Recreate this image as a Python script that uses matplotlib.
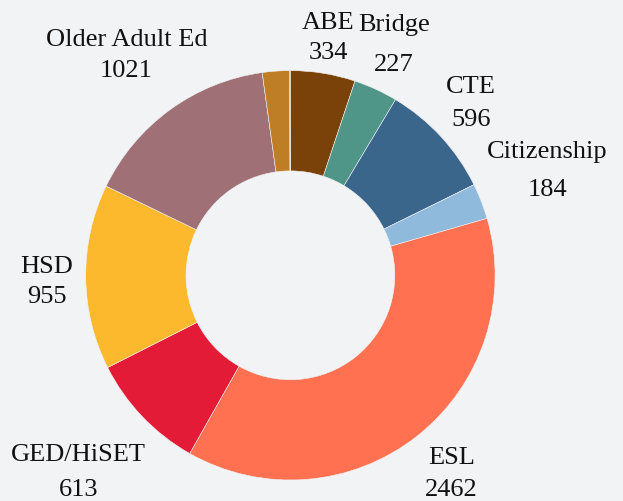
import matplotlib
matplotlib.use("Agg")
import matplotlib.pyplot as plt
import numpy as np

categories = ["ABE", "Bridge", "CTE", "Citizenship", "ESL", "GED/HiSET", "HSD",
              "Older Adult Ed", "", ""]
values = [334, 227, 596, 184, 2462, 613, 955, 1021, 140, 4]
show_value = [True, True, True, True, True, True, True, True, False, False]
colors = ["#7a4209", "#4f9689", "#3b668c", "#8fbadb", "#ff7150", "#e31b37",
          "#fdb92e", "#9f7075", "#bd7e25", "#8a7a3a"]
# label layout: radius factor of anchor, gap (px) between baselines, extra shift (px)
label_dist = [1.15, 1.21, 1.20, 1.345, 1.27, 1.43, 1.19, 1.32, 1.2, 1.2]
label_gap = [30, 40, 33, 38, 32, 35, 30, 31, 30, 30]
label_dx = [0, 0, 0, 0, 0, 0, 0, -5, 0, 0]
label_dy = [0, 0, 0, 0, 0, 0, -10, -4, 0, 0]

bg = "#f1f3f5"
W, H = 623, 502
R = 204.7
cx, cy = 290.4, 276.3

fig = plt.figure(figsize=(W / 100, H / 100), dpi=100, facecolor=bg)
ax = fig.add_axes([0, 0, 1, 1])
ax.set_facecolor(bg)

wedges, _ = ax.pie(values, colors=colors, startangle=90, counterclock=False,
                   radius=1.0, wedgeprops=dict(width=0.49, edgecolor=bg, linewidth=0.4))
ax.set_aspect("auto")
ax.set_xlim(-cx / R, (W - cx) / R)
ax.set_ylim(-(H - cy) / R, cy / R)
ax.axis("off")

font = ["Liberation Serif", "DejaVu Serif"]
for w, name, v, show, d, g, dx, dy in zip(wedges, categories, values, show_value,
                                          label_dist, label_gap, label_dx, label_dy):
    if not show:
        continue
    ang = np.deg2rad((w.theta1 + w.theta2) / 2)
    x, y = d * np.cos(ang), d * np.sin(ang)
    ax.annotate(name, (x, y), xytext=(dx, dy + g / 2), textcoords="offset pixels",
                ha="center", va="baseline", fontsize=19, family=font,
                color="#111111")
    ax.annotate(f"{v}", (x, y), xytext=(dx, dy - g / 2), textcoords="offset pixels",
                ha="center", va="baseline", fontsize=19, family=font,
                color="#111111")

fig.savefig("out.png", dpi=100, facecolor=bg)
